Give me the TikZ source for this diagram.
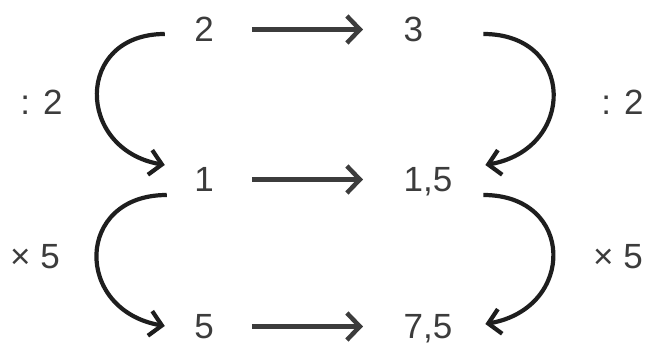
\documentclass[tikz,border=0pt]{standalone}
\usepackage{fontspec}
\setmainfont{Liberation Sans}
\usetikzlibrary{arrows.meta}
\definecolor{numgray}{HTML}{3C3C3C}
\definecolor{arcblack}{HTML}{1E1E1E}
\begin{document}
\begin{tikzpicture}[x=1pt,y=1pt,
		num/.style={inner sep=0pt,text height=25pt,text depth=0pt,text=numgray,font=\fontsize{35}{40}\selectfont},
		hop/.style={draw=numgray,line width=4.5pt,shorten <=38pt,shorten >=40.5pt,-{Straight Barb[length=13pt,width=27pt]}},
		turn/.style={draw=arcblack,line width=4.2pt,-{Straight Barb[length=12pt,width=25pt]}}]
				\useasboundingbox (0,0) rectangle (646,347);
				% left column
				\node[num,anchor=base] (n2) at (204,305) {2};
				\node[num,anchor=base] (n1) at (204,155) {1};
				\node[num,anchor=base] (n5) at (204,8) {5};
				% right column
				\node[num,anchor=base west] (n3) at (403.5,305) {3};
				\node[num,anchor=base west] (n15) at (403.5,155) {1,5};
				\node[num,anchor=base west] (n75) at (403.5,8) {7,5};
				% side labels
				\node[num,anchor=base] (divL) at (41.5,232) {: 2};
				\node[num,anchor=base] (divR) at (622.5,232) {: 2};
				\node[num,anchor=base] (mulL) at (35,78) {× 5};
				\node[num,anchor=base] (mulR) at (618,78) {× 5};
				\draw[hop] (n2.east)--(n3.west);
				\draw[hop] (n1.east)--(n15.west);
				\draw[hop] (n5.east)--(n75.west);
				\draw[turn] ([shift={(-29.3,-4.5)}]n2.west) to[out=180,in=170,looseness=1.77] ([shift={(-29.3,14.5)}]n1.west);
				\draw[turn] ([shift={(-27.3,-15.5)}]n1.west) to[out=180,in=170,looseness=1.8] ([shift={(-29.3,0.5)}]n5.west);
				\draw[turn] ([shift={(60,-4.5)}]n3.east) to[out=0,in=10,looseness=1.8] ([shift={(32.8,14.5)}]n15.east);
				\draw[turn] ([shift={(30.8,-15.5)}]n15.east) to[out=0,in=10,looseness=1.82] ([shift={(32.8,2.5)}]n75.east);
			\end{tikzpicture}
\end{document}
